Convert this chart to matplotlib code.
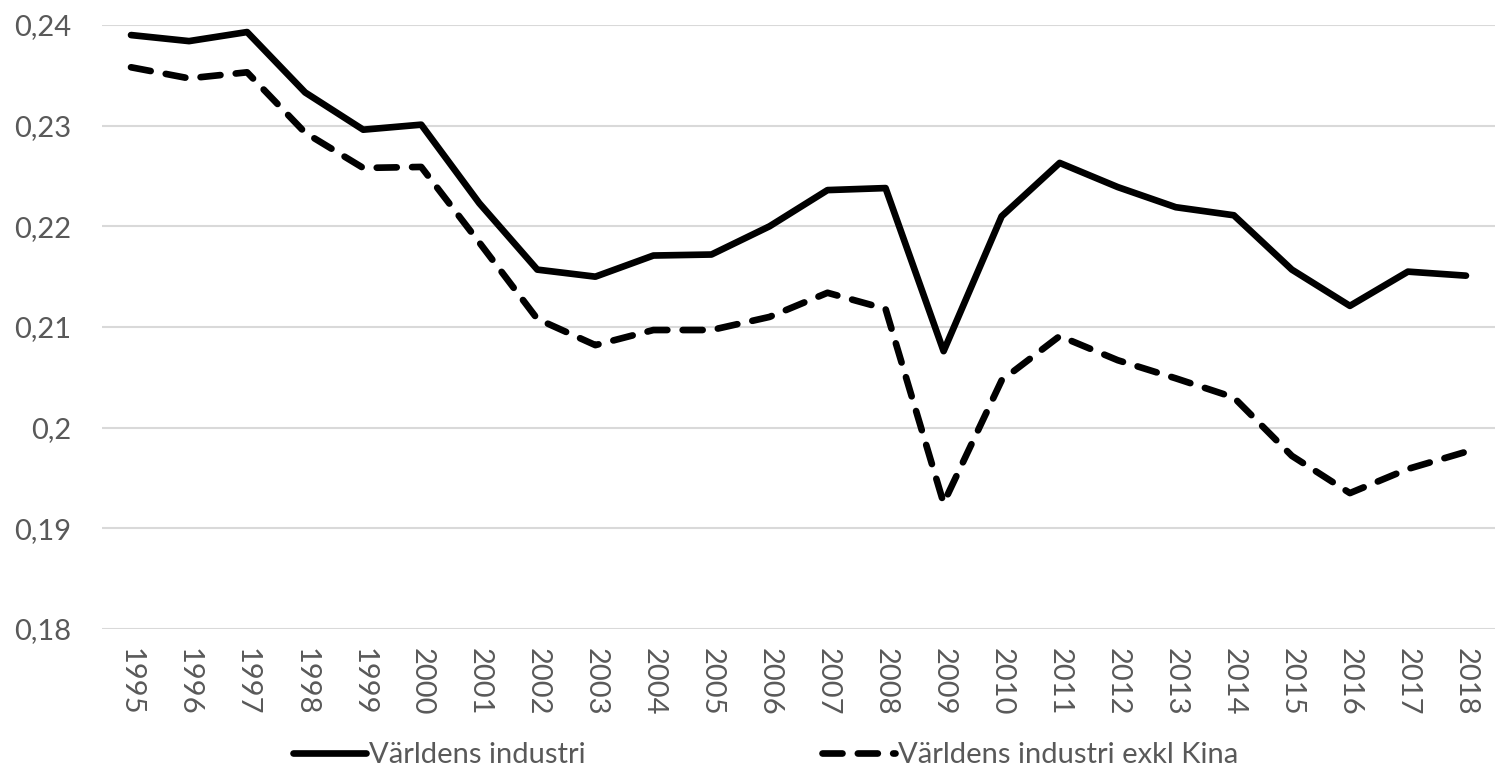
import numpy as np
import matplotlib.pyplot as plt

# data
years = [str(y) for y in range(1995, 2019)]
world = [0.2390, 0.2384, 0.2393, 0.2333, 0.2296, 0.2301, 0.2223, 0.2157,
         0.2150, 0.2171, 0.2172, 0.2200, 0.2236, 0.2238, 0.2076, 0.2210,
         0.2263, 0.2239, 0.2219, 0.2211, 0.2157, 0.2121, 0.2155, 0.2151]
world_ex_china = [0.2358, 0.2347, 0.2353, 0.2293, 0.2258, 0.2259, 0.2184, 0.2108,
                  0.2082, 0.2097, 0.2097, 0.2110, 0.2134, 0.2118, 0.1925, 0.2047,
                  0.2091, 0.2067, 0.2049, 0.2030, 0.1972, 0.1935, 0.1959, 0.1976]
yticks = [0.18, 0.19, 0.20, 0.21, 0.22, 0.23, 0.24]
ytick_labels = ['0,18', '0,19', '0,2', '0,21', '0,22', '0,23', '0,24']

plt.rcParams['font.family'] = ['Lato', 'DejaVu Sans']
txt = '#595959'
fs = 21

fig = plt.figure(figsize=(14.99, 7.77), dpi=100)
ax = fig.add_axes([102/1499, 1 - 629/777, (1495 - 102)/1499, (629 - 25)/777])

x = np.arange(len(years))
ax.plot(x, world, color='black', lw=4.8, solid_capstyle='round',
        solid_joinstyle='round', label='Världens industri', clip_on=False)
ax.plot(x, world_ex_china, color='black', lw=4.8, dashes=(3.0, 2.3),
        dash_capstyle='round', dash_joinstyle='round',
        label='Världens industri exkl Kina', clip_on=False)

ax.set_xlim(-0.5, len(years) - 0.5)
ax.set_ylim(0.18, 0.24)
ax.set_yticks(yticks)
ax.set_yticklabels(ytick_labels)
ax.set_xticks(x)
ax.set_xticklabels(years, rotation=270)
ax.tick_params(axis='both', length=0, labelsize=fs, colors=txt)
ax.tick_params(axis='y', pad=22)
ax.tick_params(axis='x', pad=14)
ax.grid(axis='y', color='#d9d9d9', lw=1.5)
ax.set_axisbelow(True)
for s in ax.spines.values():
    s.set_visible(False)

leg = fig.legend(loc='center left', bbox_to_anchor=(293/1499, 1 - 755/777), ncol=2,
                 frameon=False, fontsize=fs, handlelength=2.5, borderpad=0,
                 borderaxespad=0, handletextpad=0.1, columnspacing=8.1)
for t in leg.get_texts():
    t.set_color(txt)

fig.savefig('out.png', dpi=100)
